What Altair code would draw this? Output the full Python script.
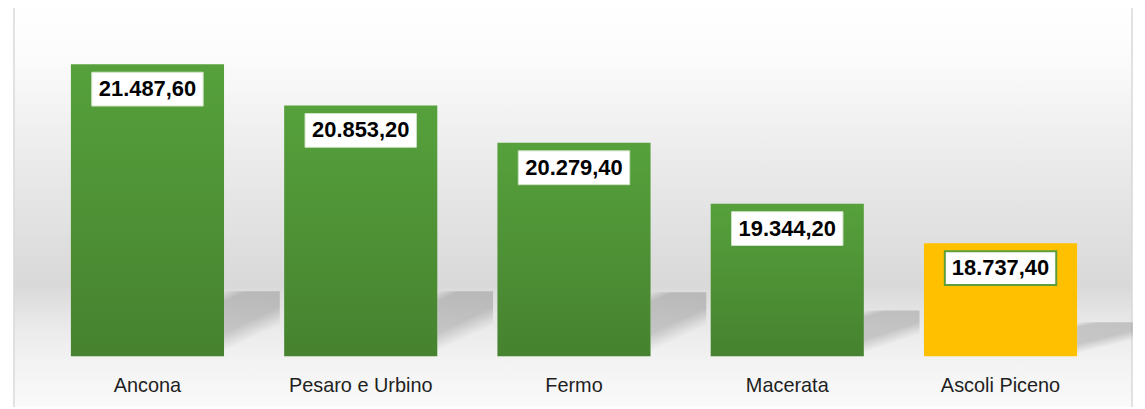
import altair as alt
import pandas as pd

# ---- data ----
categories = ["Ancona", "Pesaro e Urbino", "Fermo", "Macerata", "Ascoli Piceno"]
values = [21487.60, 20853.20, 20279.40, 19344.20, 18737.40]
highlight = "Ascoli Piceno"
y_domain = [17000, 22000]


def it_format(v):
    s = f"{v:,.2f}"
    return s.replace(",", "X").replace(".", ",").replace("X", ".")


df = pd.DataFrame({
    "provincia": categories,
    "valore": values,
    "etichetta": [it_format(v) for v in values],
})

W, H = 1072, 327

x_enc = alt.X(
    "provincia:N",
    sort=categories,
    scale=alt.Scale(paddingInner=0.282, paddingOuter=0.141),
    axis=alt.Axis(
        title=None, labelAngle=0, labelFontSize=20, labelFont="Liberation Sans",
        labelColor="#1f1f1f", domain=False, ticks=False, grid=False, labelPadding=19,
        zindex=2,
    ),
)
y_scale = alt.Scale(domain=y_domain, zero=False, nice=False)

# ---- background wall / floor with frame ----
bg_grad = alt.Gradient(
    gradient="linear", x1=0, y1=0, x2=0, y2=1,
    stops=[
        alt.GradientStop(color="#ffffff", offset=0),
        alt.GradientStop(color="#fbfbfb", offset=0.135),
        alt.GradientStop(color="#eeeeee", offset=0.327),
        alt.GradientStop(color="#e2e2e2", offset=0.52),
        alt.GradientStop(color="#d9d9d9", offset=0.675),
        alt.GradientStop(color="#ebebeb", offset=0.784),
        alt.GradientStop(color="#f2f2f2", offset=0.856),
        alt.GradientStop(color="#fcfcfc", offset=1),
    ],
)
background = alt.Chart(alt.Data(values=[{}])).mark_rect(
    fill=bg_grad, stroke="#d9d9d9", strokeWidth=1.5
).encode(
    x=alt.value(-27), x2=alt.value(1097), y=alt.value(-26), y2=alt.value(390)
)

base = alt.Chart(df)

# ---- soft cast shadows behind each bar ----
shadow_grad = alt.Gradient(
    gradient="linear", x1=0, y1=0, x2=0.4, y2=1,
    stops=[
        alt.GradientStop(color="rgba(0,0,0,0)", offset=0),
        alt.GradientStop(color="rgba(0,0,0,0.16)", offset=0.14),
        alt.GradientStop(color="rgba(0,0,0,0.17)", offset=0.55),
        alt.GradientStop(color="rgba(0,0,0,0)", offset=0.8),
    ],
)
shadow_data = base.transform_calculate(
    ombra=f"{y_domain[0]} + min(0.3 * (datum.valore - {y_domain[0]}), 1000)"
)
shadows = shadow_data.mark_bar(width=56, xOffset=105, fill=shadow_grad).encode(
    x=x_enc,
    y=alt.Y("ombra:Q", scale=y_scale, axis=None),
    y2=alt.datum(y_domain[0]),
)

# ---- bars ----
green_grad = alt.Gradient(
    gradient="linear", x1=0, y1=0, x2=0, y2=1,
    stops=[
        alt.GradientStop(color="#56a13c", offset=0),
        alt.GradientStop(color="#46822f", offset=1),
    ],
)
bars_green = base.transform_filter(
    alt.datum.provincia != highlight
).mark_bar(fill=green_grad).encode(
    x=x_enc,
    y=alt.Y("valore:Q", scale=y_scale, axis=None),
    y2=alt.datum(y_domain[0]),
)
bars_hl = base.transform_filter(
    alt.datum.provincia == highlight
).mark_bar(fill="#ffc000").encode(
    x=x_enc,
    y=alt.Y("valore:Q", scale=y_scale, axis=None),
    y2=alt.datum(y_domain[0]),
)

# ---- white label boxes ----
boxes = base.mark_bar(width=112, yOffset=8, y2Offset=42, fill="white").encode(
    x=x_enc,
    y=alt.Y("valore:Q", scale=y_scale, axis=None),
    y2="valore:Q",
    stroke=alt.condition(alt.datum.provincia == highlight, alt.value("#5b9e3b"), alt.value("#cfe2c6")),
    strokeWidth=alt.condition(alt.datum.provincia == highlight, alt.value(2), alt.value(1)),
)

labels = base.mark_text(
    yOffset=25, fontSize=22, fontWeight="bold", font="Liberation Sans",
    baseline="middle", align="center", color="#000000",
).encode(
    x=x_enc,
    y=alt.Y("valore:Q", scale=y_scale, axis=None),
    text="etichetta:N",
)

chart = alt.layer(background, shadows, bars_green, bars_hl, boxes, labels).properties(
    width=W,
    height=H,
    autosize=alt.AutoSizeParams(type="none"),
    padding={"left": 33, "top": 22, "right": 30, "bottom": 50},
).configure(background="white").configure_view(stroke=None)

chart.save("out.html", embed_options={"renderer": "svg", "actions": False})
